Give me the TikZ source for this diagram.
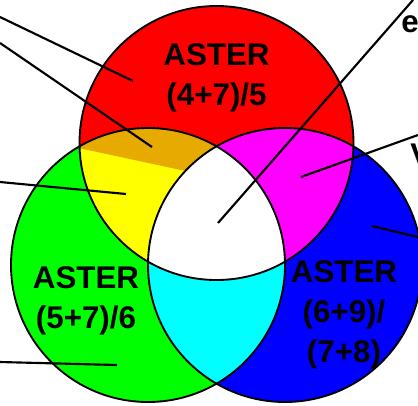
\documentclass[tikz,border=0pt]{standalone}
\usepackage{fontspec}
\setmainfont{Liberation Sans}
\usepackage{xcolor}
\usetikzlibrary{positioning}
\definecolor{asterorange}{RGB}{230,170,0}
\definecolor{astermagenta}{RGB}{255,0,255}
\definecolor{astercyan}{RGB}{0,255,255}
\definecolor{asteryellow}{RGB}{255,255,0}
\definecolor{astergreen}{RGB}{0,255,0}
\definecolor{asterblue}{RGB}{0,0,255}
\definecolor{asterred}{RGB}{255,0,0}
\tikzset{
  ring/.style={line width=1.4pt, draw=black},
  leader/.style={line width=1.6pt, color=black},
  astertext/.style={align=center, inner sep=0pt, font=\fontsize{23.5}{30}\selectfont\bfseries}
}

\begin{document}
\begin{tikzpicture}[x=0.75pt, y=-0.75pt]
      \def\redpath{(216.5,143) circle[radius=137]}
      \def\greenpath{(148,265) circle[radius=137]}
      \def\bluepath{(285,265) circle[radius=137]}

      \useasboundingbox (0,0) rectangle (418,405);

      \fill[fill=asterred] \redpath;
      \fill[fill=astergreen] \greenpath;
      \fill[fill=asterblue] \bluepath;

      \begin{scope}
        \clip\redpath;
        \fill[fill=asteryellow] \greenpath;
        \fill[fill=astermagenta] \bluepath;
      \end{scope}
      \begin{scope}
        \clip\greenpath;
        \fill[fill=astercyan] \bluepath;
      \end{scope}
      \begin{scope}
        \clip\redpath;
        \clip\greenpath;
        \fill[fill=asterorange] (60,100) -- (260,100) -- (260,187) -- (60,144) -- cycle;
        \fill[fill=white] \bluepath;
      \end{scope}

      \draw[ring] \redpath;
      \draw[ring] \greenpath;
      \draw[ring] \bluepath;

      \node[astertext] (redtext) at (216.5,78) {ASTER\\(4+7)/5};
      \node[astertext] (greentext) at (86,301) {ASTER\\(5+7)/6};
      \node[astertext] (bluetext) at (344,315) {ASTER\\(6+9)/\\(7+8)};
      \node[astertext, anchor=base west] (elabel) at (401,32) {e};
      \node[astertext, anchor=base west] (vlabel) at (410,165) {V};

      \coordinate (redend) at (0,17);
      \coordinate (redtip) at (133,81);
      \coordinate (orangeend) at (0,43);
      \coordinate (orangetip) at (152,147);
      \coordinate (yellowend) at (0,182);
      \coordinate (yellowtip) at (126,194);
      \coordinate (greenend) at (0,362);
      \coordinate (greentip) at (117,365);
      \coordinate (whiteend) at (413,0);
      \coordinate (whitetip) at (218,223);
      \coordinate (magentaend) at (418,135);
      \coordinate (magentatip) at (301,177);
      \coordinate (blueend) at (418,237);
      \coordinate (bluetip) at (372,226);

      \draw[leader] (redend) -- (redtip);
      \draw[leader] (orangeend) -- (orangetip);
      \draw[leader] (yellowend) -- (yellowtip);
      \draw[leader] (greenend) -- (greentip);
      \draw[leader] (whiteend) -- (whitetip);
      \draw[leader] (magentaend) -- (magentatip);
      \draw[leader] (blueend) -- (bluetip);
    \end{tikzpicture}
\end{document}
